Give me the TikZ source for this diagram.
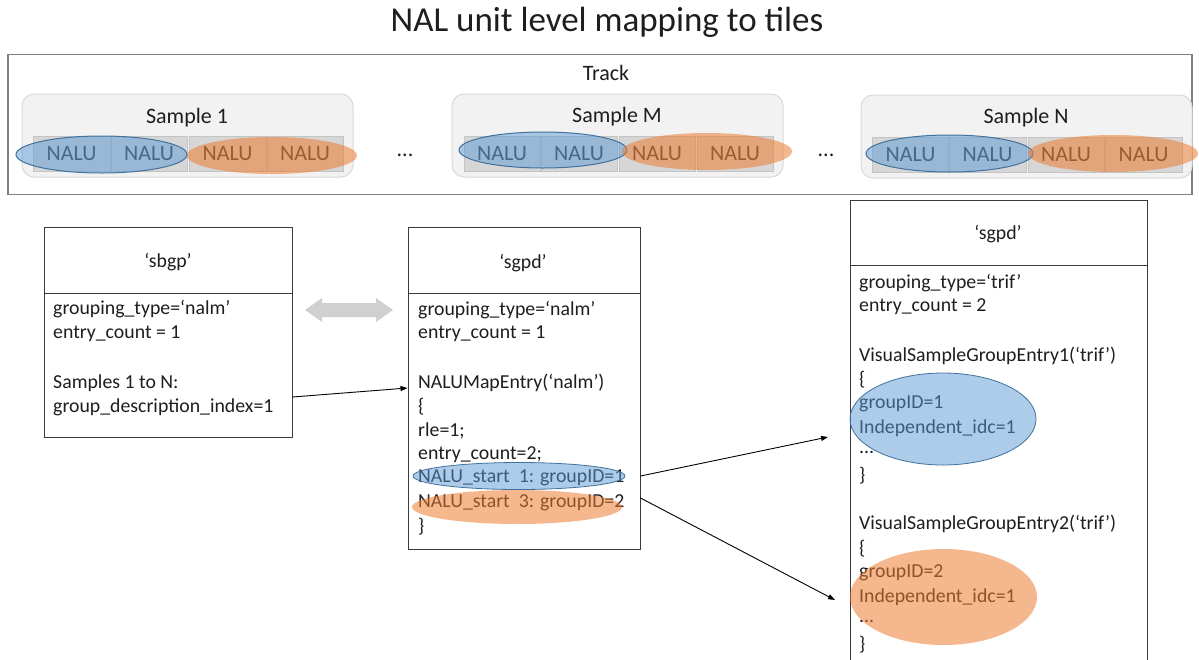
\documentclass[tikz,border=0pt]{standalone}
\usepackage{fontspec}
\setmainfont{Carlito}
\usetikzlibrary{arrows.meta}
\definecolor{bfill}{HTML}{5B9BD5}
\definecolor{bline}{HTML}{41719C}
\definecolor{ofill}{HTML}{ED7D31}
\definecolor{txt}{HTML}{1E1E1E}
\definecolor{trk}{HTML}{808080}
\definecolor{smpfill}{HTML}{F2F2F2}
\definecolor{smpline}{HTML}{D9D9D9}
\definecolor{cellfill}{HTML}{D6D6D6}
\definecolor{cellline}{HTML}{C4C4C4}
\definecolor{darrow}{HTML}{D0D0D0}
\definecolor{boxline}{HTML}{3A3A3A}
\begin{document}
\begin{tikzpicture}[x=1pt,y=-1pt,
  body/.style={anchor=west,inner sep=0pt,text=txt,font=\fontsize{19.8}{24}\selectfont},
  head/.style={inner sep=0pt,text=txt,font=\fontsize{19.8}{24}\selectfont},
  box/.style={draw=boxline,line width=1pt,fill=white,inner sep=0pt},
  sample/.style={draw=smpline,fill=smpfill,rounded corners=12pt,line width=1pt,inner sep=0pt},
  cell/.style={draw=cellline,fill=cellfill,inner sep=0pt,minimum height=35pt,line width=0.8pt,text=txt!90,font=\fontsize{22}{24}\selectfont},
  lbl/.style={inner sep=0pt,text=txt,font=\fontsize{22}{26}\selectfont},
  bell/.style={fill=bfill,fill opacity=0.5,draw=bline,line width=1pt,draw opacity=1},
  oell/.style={fill=ofill,fill opacity=0.55},
  arr/.style={-{Triangle[length=7pt,width=5pt]},line width=0.9pt,draw=black}]
\clip (0,0) rectangle (1199,659);
\fill[white] (0,0) rectangle (1199,659);

% title
\node[inner sep=0pt,text=txt,font=\fontsize{35}{40}\selectfont] (title) at (607,22) {NAL unit level mapping to tiles};

% track
\node[draw=trk,line width=1.2pt,minimum width=1184pt,minimum height=140pt,inner sep=0pt] (track) at (600,124.5) {};
\node[lbl] (tracklbl) at (606,73) {Track};

% Sample 1
\node[sample,minimum width=331pt,minimum height=83pt] (s1) at (187.5,135.5) {};
\node[lbl] (s1lbl) at (187,118) {Sample 1};
\node[cell,minimum width=77pt] (c1a) at (71.5,153.5) {NALU};
\node[cell,minimum width=76pt] (c1b) at (149,153.5) {NALU};
\node[cell,minimum width=77pt] (c1c) at (227.5,153.5) {NALU};
\node[cell,minimum width=76pt] (c1d) at (305,153.5) {NALU};
\path[bell] (101.5,154.5) ellipse [x radius=85.5pt,y radius=18.5pt];
\path[oell] (272,155.5) ellipse [x radius=85pt,y radius=18.5pt];

\node[lbl] (dots1) at (405,155) {...};

% Sample M
\node[sample,minimum width=331pt,minimum height=83pt] (sm) at (617.5,135.5) {};
\node[lbl] (smlbl) at (617,117) {Sample M};
\node[cell,minimum width=76pt] (cma) at (502,153.5) {NALU};
\node[cell,minimum width=76pt] (cmb) at (579,153.5) {NALU};
\node[cell,minimum width=76pt] (cmc) at (657,153.5) {NALU};
\node[cell,minimum width=76pt] (cmd) at (735,153.5) {NALU};
\path[bell] (543,150) ellipse [x radius=84pt,y radius=18pt];
\path[oell] (707,151.5) ellipse [x radius=85pt,y radius=18.5pt];

\node[lbl] (dots2) at (826,155) {...};

% Sample N
\node[sample,minimum width=331pt,minimum height=83pt] (sn) at (1026.5,136.5) {};
\node[lbl] (snlbl) at (1026,118) {Sample N};
\node[cell,minimum width=76pt] (cna) at (910.5,155) {NALU};
\node[cell,minimum width=77pt] (cnb) at (987.5,155) {NALU};
\node[cell,minimum width=76pt] (cnc) at (1066,155) {NALU};
\node[cell,minimum width=77pt] (cnd) at (1143.5,155) {NALU};
\path[bell] (949.5,153.5) ellipse [x radius=83.5pt,y radius=18.5pt];
\path[oell] (1113,153.5) ellipse [x radius=85pt,y radius=18.5pt];

% sbgp box
\node[box,minimum width=248pt,minimum height=210pt] (sbgp) at (168,332) {};
\draw[draw=boxline,line width=1pt] (sbgp.west |- 0,293) -- (sbgp.east |- 0,293);
\node[head] (sbgph) at (168,262) {‘sbgp’};
\node[body] (b1) at (53,309) {grouping\_type=‘nalm’};
\node[body] (b2) at (53,334) {entry\_count = 1};
\node[body] (b3) at (53,383) {Samples 1 to N:};
\node[body] (b4) at (53,407) {group\_description\_index=1};

% gray double arrow
\fill[darrow] (305,310) -- (322,298) -- (322,303) -- (376,303) -- (376,298) -- (393,310)
  -- (376,322) -- (376,317) -- (322,317) -- (322,322) -- cycle;

% sgpd box 1
\node[box,minimum width=232pt,minimum height=322pt] (sgpd1) at (524,388) {};
\draw[draw=boxline,line width=1pt] (sgpd1.west |- 0,293) -- (sgpd1.east |- 0,293);
\node[head] (sgpd1h) at (523,263) {‘sgpd’};
\node[body] (m1) at (418,310) {grouping\_type=‘nalm’};
\node[body] (m2) at (418,334) {entry\_count = 1};
\node[body] (m3) at (418,383) {NALUMapEntry(‘nalm’)};
\node[body] (m4) at (418,407) {\{};
\node[body] (m5) at (418,431) {rle=1;};
\node[body] (m6) at (418,455) {entry\_count=2;};
\node[body] (m7) at (418,478) {NALU\_start\ \ 1: groupID=1};
\node[body] (m8) at (418,503) {NALU\_start\ \ 3: groupID=2};
\node[body] (m9) at (418,527) {\}};
\path[bell,line width=0.8pt] (519,476) ellipse [x radius=106pt,y radius=13.5pt];
\path[oell] (517,507) ellipse [x radius=105pt,y radius=17pt];

% sgpd box 2
\node[box,minimum width=297pt,minimum height=480pt] (sgpd2) at (998.5,440) {};
\draw[draw=boxline,line width=1pt] (sgpd2.west |- 0,265) -- (sgpd2.east |- 0,265);
\node[head] (sgpd2h) at (998,234) {‘sgpd’};
\node[body] (t1) at (859,283) {grouping\_type=‘trif’};
\node[body] (t2) at (859,307) {entry\_count = 2};
\node[body] (t3) at (859,356) {VisualSampleGroupEntry1(‘trif’)};
\node[body] (t4) at (859,380) {\{};
\node[body] (t5) at (859,404) {groupID=1};
\node[body] (t6) at (859,428) {Independent\_idc=1};
\node[body] (t7) at (859,452) {...};
\node[body] (t8) at (859,476) {\}};
\node[body] (t9) at (859,524) {VisualSampleGroupEntry2(‘trif’)};
\node[body] (t10) at (859,549) {\{};
\node[body] (t11) at (859,573) {groupID=2};
\node[body] (t12) at (859,597) {Independent\_idc=1};
\node[body] (t13) at (859,621) {...};
\node[body] (t14) at (859,645) {\}};
\path[bell,line width=0.8pt] (943,419) ellipse [x radius=93pt,y radius=46pt];
\path[oell] (943.5,597) ellipse [x radius=93.5pt,y radius=48pt];

% connectors
\coordinate (e1) at (828,437);
\coordinate (e2) at (835,600);
\draw[arr] (sbgp.east |- 0,397) -- (sgpd1.west |- 0,388);
\draw[arr] (sgpd1.east |- 0,476) -- (e1);
\draw[arr] (sgpd1.east |- 0,498) -- (e2);
\end{tikzpicture}
\end{document}
